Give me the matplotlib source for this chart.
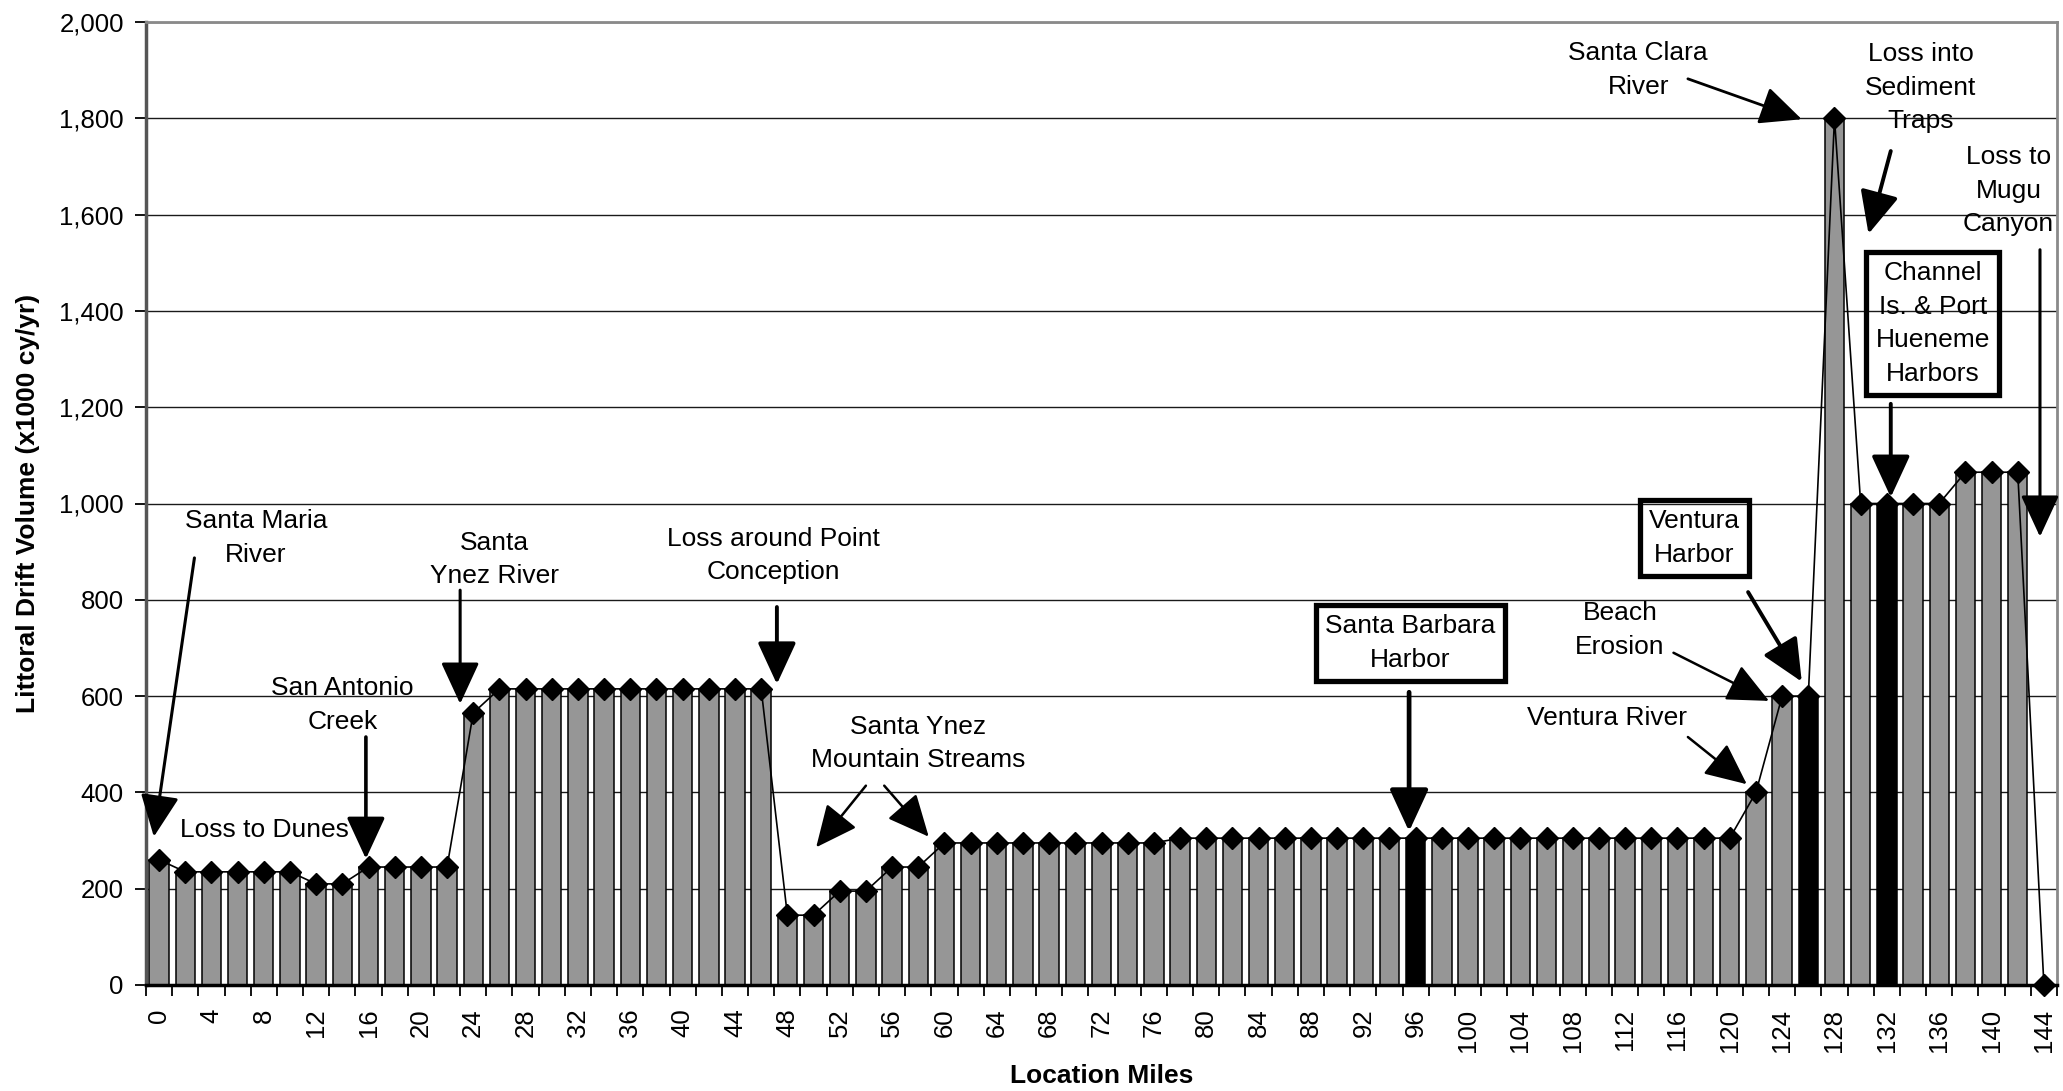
import matplotlib
matplotlib.use("Agg")
import matplotlib.pyplot as plt
import numpy as np

plt.rcParams['font.family'] = ['Liberation Sans', 'DejaVu Sans']

# ---- data ----
miles = list(range(0, 146, 2))
drift = ([260, 235, 235, 235, 235, 235, 210, 210, 245, 245, 245, 245, 565]
         + [615] * 11
         + [145, 145, 195, 195, 245, 245]
         + [295] * 9
         + [305] * 22
         + [400, 600, 600, 1800, 1000, 1000, 1000, 1000, 1065, 1065, 1065, 0])
harbor_miles = [96, 126, 132]
y_ticks = list(range(0, 2001, 200))
x_label_miles = list(range(0, 145, 4))

# annotations: (text, text_x, text_y, boxed)
labels = [
    ("Santa Maria\nRiver", 7.4, 928, False),
    ("Loss to Dunes", 8.05, 321, False),
    ("San Antonio\nCreek", 14.0, 581, False),
    ("Santa\nYnez River", 25.6, 884, False),
    ("Loss around Point\nConception", 46.9, 892, False),
    ("Santa Ynez\nMountain Streams", 58.0, 502, False),
    ("Santa Barbara\nHarbor", 95.6, 710, True),
    ("Ventura River", 110.6, 554, False),
    ("Beach\nErosion", 111.6, 737, False),
    ("Ventura\nHarbor", 117.3, 928, True),
    ("Santa Clara\nRiver", 113.0, 1900, False),
    ("Loss into\nSediment\nTraps", 134.6, 1863, False),
    ("Loss to\nMugu\nCanyon", 141.3, 1650, False),
    ("Channel\nIs. & Port\nHueneme\nHarbors", 135.5, 1374, True),
]
# arrows: (tail_x, tail_y, tip_x, tip_y, linewidth)
arrows = [
    (2.7, 887, -0.4, 308, 2.2),
    (15.8, 515, 15.8, 262, 2.6),
    (23.0, 820, 23.0, 584, 2.2),
    (47.2, 785, 47.2, 625, 2.8),
    (54.0, 414, 50.2, 286, 1.8),
    (55.4, 414, 58.8, 308, 1.8),
    (95.5, 608, 95.5, 319, 3.4),
    (116.8, 515, 121.3, 417, 1.8),
    (115.7, 690, 123.0, 590, 1.8),
    (121.4, 816, 125.5, 630, 2.8),
    (116.8, 1882, 125.5, 1798, 2.0),
    (132.3, 1732, 130.6, 1560, 2.8),
    (143.7, 1527, 143.7, 931, 2.2),
    (132.3, 1207, 132.3, 1013, 2.8),
]

fig = plt.figure(figsize=(20.63, 10.91), dpi=100)
ax = fig.add_axes([146 / 2063, 1 - 985 / 1091, (2057 - 146) / 2063, (985 - 22) / 1091])

colors = ['black' if m in harbor_miles else '#969696' for m in miles]
ax.bar(miles, drift, width=2 * 0.74, color=colors, edgecolor='black',
       linewidth=1.1, zorder=2)
ax.plot(miles, drift, color='black', lw=1.2, marker='D', ms=11.5,
        mfc='black', mec='black', zorder=4, clip_on=False)

ax.set_xlim(-1, 145)
ax.set_ylim(0, 2000)

ax.set_yticks(y_ticks)
ax.set_yticklabels([f"{v:,}" for v in y_ticks], fontsize=18.5)
ax.grid(axis='y', color='#1a1a1a', lw=1.0, zorder=0)
ax.set_axisbelow(True)

boundaries = list(np.arange(-1, 146, 2))
ax.set_xticks(boundaries)
ax.set_xticklabels([''] * len(boundaries))
ax.set_xticks(x_label_miles, minor=True)
ax.set_xticklabels([str(m) for m in x_label_miles], minor=True,
                   rotation=90, fontsize=18.5)
ax.tick_params(axis='x', which='minor', length=0, pad=17)
ax.tick_params(axis='x', which='major', length=8, width=1.3, direction='out')
ax.tick_params(axis='y', length=8, width=1.3, direction='out', pad=8)

for s in ['top', 'right']:
    ax.spines[s].set_color('#8a8a8a')
    ax.spines[s].set_linewidth(2)
ax.spines['left'].set_color('#555555')
ax.spines['left'].set_linewidth(2.5)
ax.spines['bottom'].set_color('black')
ax.spines['bottom'].set_linewidth(2.5)

ax.set_xlabel("Location Miles", fontsize=19, fontweight='bold', labelpad=9)
ax.set_ylabel("Littoral Drift Volume (x1000 cy/yr)", fontsize=19,
              fontweight='bold', labelpad=14)

for txt, tx, ty, boxed in labels:
    kw = {}
    if boxed:
        kw['bbox'] = dict(boxstyle='square,pad=0.35', fc='none', ec='black', lw=3.8)
    ax.text(tx, ty, txt, ha='center', va='center', multialignment='center',
            fontsize=19, linespacing=1.5, zorder=6, **kw)

for x0, y0, x1, y1, lw in arrows:
    ax.annotate('', xy=(x1, y1), xytext=(x0, y0),
                arrowprops=dict(arrowstyle='-|>,head_length=1.3,head_width=0.6',
                                mutation_scale=20, lw=lw, color='black',
                                shrinkA=0, shrinkB=0),
                zorder=7, annotation_clip=False)

fig.savefig("out.png", dpi=100)
